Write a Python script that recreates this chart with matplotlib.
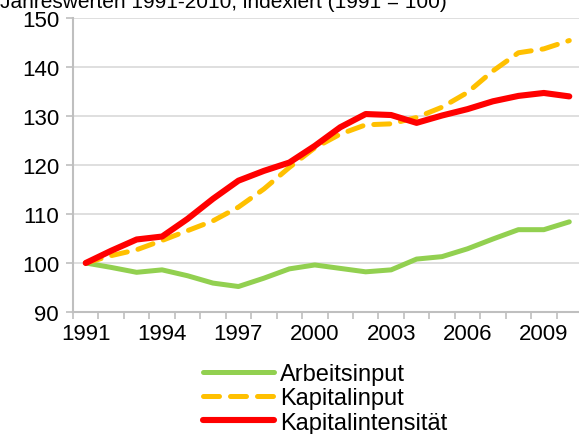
import matplotlib
matplotlib.use("Agg")
import matplotlib.pyplot as plt
import numpy as np

years = list(range(1991, 2011))
tick_years = [1991, 1994, 1997, 2000, 2003, 2006, 2009]
arbeitsinput = [100.0, 99.1, 98.1, 98.6, 97.4, 95.9, 95.2, 96.9, 98.8, 99.6,
                98.9, 98.2, 98.6, 100.8, 101.3, 102.9, 104.9, 106.8, 106.8, 108.4]
kapitalinput = [100.0, 101.5, 102.7, 104.6, 106.6, 108.6, 111.4, 115.1, 119.5, 123.5,
                126.3, 128.2, 128.4, 129.7, 131.8, 134.8, 139.2, 142.9, 143.7, 145.4]
kapitalintensitaet = [100.0, 102.5, 104.8, 105.4, 109.0, 113.1, 116.8, 118.8, 120.5, 123.9,
                      127.7, 130.4, 130.2, 128.6, 130.1, 131.4, 133.0, 134.1, 134.7, 134.0]
series_names = ["Arbeitsinput", "Kapitalinput", "Kapitalintensität"]
title = "Jahreswerten 1991-2010, indexiert (1991 = 100)"

plt.rcParams['font.family'] = ['Liberation Sans', 'DejaVu Sans']

fig = plt.figure(figsize=(5.79, 4.35), dpi=100)
ax = fig.add_axes([73/579, 1-313/435, 509/579, (313-19)/435])

x = np.arange(len(years))
ax.plot(x, arbeitsinput, color="#92d050", lw=3.6, solid_capstyle="round",
        solid_joinstyle="round", label=series_names[0], zorder=3)
ax.plot(x, kapitalinput, color="#ffc000", lw=3.6, dashes=(3.2, 2.2),
        dash_capstyle="round", label=series_names[1], zorder=4)
ax.plot(x, kapitalintensitaet, color="#ff0000", lw=4.4, solid_capstyle="round",
        solid_joinstyle="round", label=series_names[2], zorder=5)

ax.set_xlim(-0.5, len(years) - 0.5)
ax.set_ylim(90, 150)
ax.set_yticks(range(90, 151, 10))
ax.set_xticks([years.index(y) for y in tick_years])
ax.set_xticklabels([str(y) for y in tick_years])
ax.set_xticks(np.arange(-0.5, len(years), 1), minor=True)
ax.tick_params(axis='x', which='major', length=0, labelsize=16, pad=8)
ax.tick_params(axis='x', which='minor', length=5, width=1.2, color="#bfbfbf")
ax.tick_params(axis='y', length=5, width=1.2, color="#bfbfbf", labelsize=16, pad=5)

ax.grid(axis='y', color="#d9d9d9", lw=1.2)
ax.set_axisbelow(True)
for s in ["top", "right"]:
    ax.spines[s].set_visible(False)
for s in ["left", "bottom"]:
    ax.spines[s].set_color("#bfbfbf")
    ax.spines[s].set_linewidth(1.5)

fig.text(0.0, 1 - 2/435, title, fontsize=15, va='center', ha='left')

leg = fig.legend(loc='upper center', bbox_to_anchor=(325/579, 1 - 352/435), ncol=1,
                 frameon=False, fontsize=17, handlelength=3.0, handletextpad=0.25,
                 labelspacing=0.1, borderpad=0)

fig.savefig("out.png", dpi=100)
